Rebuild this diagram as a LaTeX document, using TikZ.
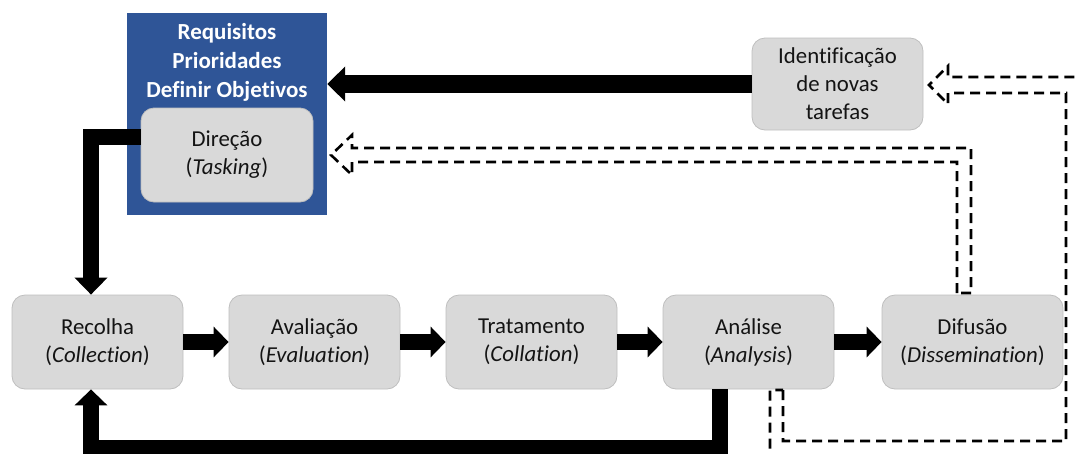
\documentclass[tikz,border=0pt]{standalone}
\usepackage{fontspec}
\setmainfont{Carlito}[Ligatures=NoCommon]
\usetikzlibrary{arrows.meta,calc}
\definecolor{boxgray}{HTML}{D9D9D9}
\definecolor{boxedge}{HTML}{BFBFBF}
\definecolor{taskblue}{HTML}{2F5597}
\definecolor{txt}{HTML}{141414}
\begin{document}
\begin{tikzpicture}[x=1pt,y=-1pt,
  stage/.style={draw=boxedge, fill=boxgray, line width=0.8pt, rounded corners=13pt,
    minimum width=171pt, minimum height=94pt, inner sep=0pt, align=center,
    text=txt, font=\fontsize{22.8}{28}\selectfont},
  flow/.style={line width=16pt, line join=miter, -{Triangle[width=30pt,length=15pt]}},
  bigflow/.style={line width=18pt, -{Triangle[width=34pt,length=18pt]}},
  hollow/.style={draw=black, line width=2.6pt, dash pattern=on 10pt off 6pt, line join=miter}
]
\useasboundingbox (0,0) rectangle (1075,453);

% tasking block
\node[fill=taskblue, minimum width=200pt, minimum height=202pt, inner sep=0pt] (req) at (227,114) {};
\node[text=white, align=center, font=\bfseries\fontsize{23}{29}\selectfont] (reqtxt) at (227,62)
  {Requisitos\\Prioridades\\Definir Objetivos};
\node[stage, minimum width=172pt] (dir) at (227,155) {Direção\\(\textit{Tasking})};

% new tasks
\node[stage, minimum height=92pt] (ident) at (837.5,84) {Identificação\\de novas\\tarefas};

% main cycle
\node[stage] (rec) at (97.5,342)  {Recolha\\(\textit{Collection})};
\node[stage] (ava) at (314.5,342) {Avaliação\\(\textit{Evaluation})};
\node[stage] (tra) at (531.5,342) {Tratamento\\(\textit{Collation})};
\node[stage] (ana) at (748.5,342) {Análise\\(\textit{Analysis})};
\node[stage, minimum width=181pt] (dif) at (972.5,342) {Difusão\\(\textit{Dissemination})};

% solid flows
\draw[flow] (rec.east) -- (ava.west);
\draw[flow] (ava.east) -- (tra.west);
\draw[flow] (tra.east) -- (ana.west);
\draw[flow] (ana.east) -- (dif.west);
\draw[bigflow] (ident.west) -- (ident.west -| req.east);

\coordinate (dirout) at ([yshift=18pt]dir.west);
\coordinate (rectop) at ([xshift=-6.5pt]rec.north);
\draw[flow, -{Triangle[width=32pt,length=17pt]}] (dirout) -| (rectop);

\coordinate (anafoot) at ([xshift=-28.5pt]ana.south);
\coordinate (recfoot) at ([xshift=-6.5pt]rec.south);
\coordinate (floor) at (0,448);
\draw[flow, -{Triangle[width=32pt,length=16pt]}] (anafoot) -- (anafoot |- floor) -- (recfoot |- floor) -- (recfoot);

% dashed feedback arrows (outlined block arrows)
\begin{scope}
\clip (0,0) rectangle (1075,453);
\draw[hollow] (957,293) -- (957,162) -- (352,162) -- (352,175) -- (331,155)
  -- (352,135) -- (352,148) -- (971,148) -- (971,293) -- cycle;
\draw[hollow] (783,390) -- (783,441) -- (1066,441) -- (1066,93) -- (948,93)
  -- (948,104) -- (929,85) -- (948,66) -- (948,77) -- (1082,77) -- (1082,458)
  -- (770,458) -- (770,390) -- cycle;
\end{scope}
\end{tikzpicture}
\end{document}
